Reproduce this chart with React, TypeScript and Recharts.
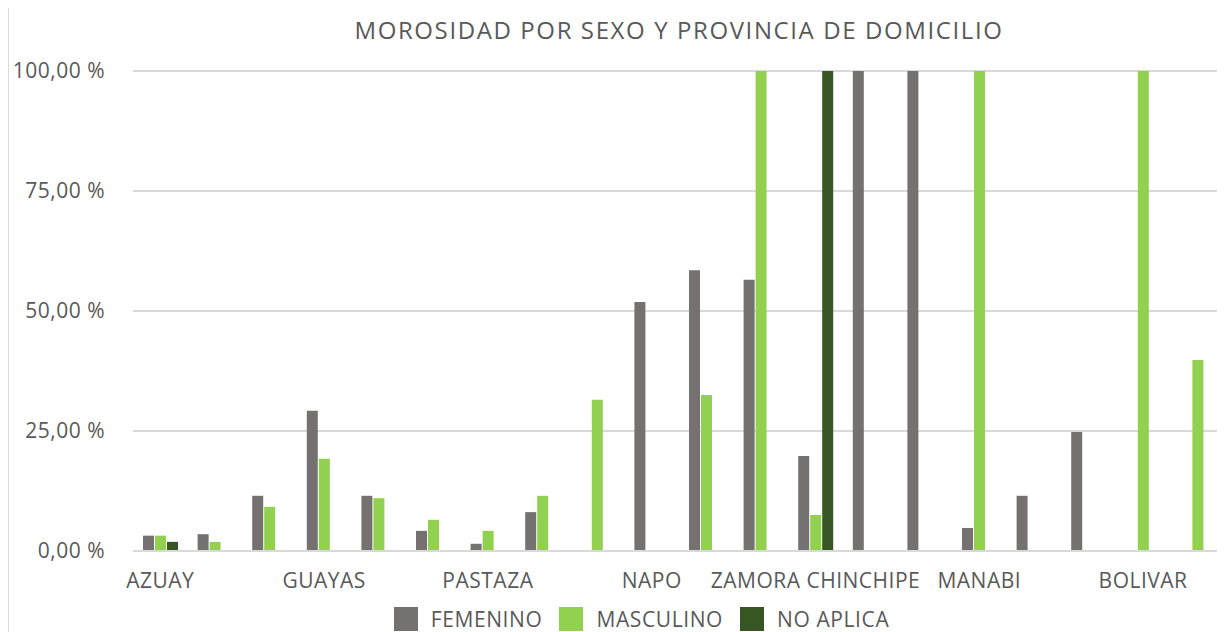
import React from 'react';
import { BarChart, Bar, XAxis, YAxis, CartesianGrid, Legend } from 'recharts';

const provincias = [
  'AZUAY', 'CAÑAR', 'EL ORO', 'GUAYAS', 'LOJA', 'MORONA SANTIAGO', 'PASTAZA', 'PICHINCHA',
  'TUNGURAHUA', 'NAPO', 'ORELLANA', 'SUCUMBIOS', 'ZAMORA CHINCHIPE', 'CHIMBORAZO', 'COTOPAXI',
  'MANABI', 'LOS RIOS', 'ESMERALDAS', 'BOLIVAR', 'CARCHI',
];
const femenino = [3.2, 3.5, 11.5, 29.2, 11.5, 4.2, 1.5, 8.1, 0, 51.9, 58.5, 56.5, 19.8, 100, 100, 4.8, 11.5, 24.8, 0, 0];
const masculino = [3.2, 1.9, 9.2, 19.2, 11, 6.5, 4.2, 11.5, 31.5, 0, 32.5, 100, 7.5, 0, 0, 100, 0, 0, 100, 39.8];
const noAplica = [1.9, 0, 0, 0, 0, 0, 0, 0, 0, 0, 0, 0, 100, 0, 0, 0, 0, 0, 0, 0];
const yTicks = [0, 25, 50, 75, 100];

const series = [
  { key: 'femenino', name: 'FEMENINO', color: '#757171' },
  { key: 'masculino', name: 'MASCULINO', color: '#92d050' },
  { key: 'noAplica', name: 'NO APLICA', color: '#375623' },
];

const data = provincias.map((p, i) => ({
  provincia: p,
  femenino: femenino[i],
  masculino: masculino[i],
  noAplica: noAplica[i],
}));

const FONT = '"Open Sans", sans-serif';
const TEXT = '#595959';

const fmt = (v: number) => v.toFixed(2).replace('.', ',') + ' %';

const LegendBox = () => (
  <div style={{ display: 'flex', justifyContent: 'center', alignItems: 'center', height: 36, paddingTop: 10, paddingLeft: 67, boxSizing: 'border-box', fontFamily: FONT, fontSize: 21, letterSpacing: 0.6, color: TEXT }}>
    {series.map((s) => (
      <div key={s.key} style={{ display: 'flex', alignItems: 'center', marginRight: 17 }}>
        <span style={{ display: 'inline-block', width: 24, height: 24, background: s.color, marginRight: 13 }} />
        <span>{s.name}</span>
      </div>
    ))}
  </div>
);

export default function App() {
  return (
    <div style={{ position: 'relative', width: 1217, height: 625, marginTop: -1, overflow: 'hidden' }}>
      <div style={{ position: 'absolute', left: 0, top: 0, width: 1217, height: 625, borderLeft: '1.5px solid #d9d9d9', borderTop: '1.5px solid #d9d9d9', boxSizing: 'border-box', pointerEvents: 'none' }} />
      <BarChart width={1217} height={625} data={data} margin={{ top: 64, right: 0, left: 0, bottom: 0 }} barSize={11} barGap={1}>
        <text x={671} y={26} textAnchor="middle" dominantBaseline="middle" fontFamily={FONT} fontSize={24} letterSpacing={1.6} fill={TEXT}>
          MOROSIDAD POR SEXO Y PROVINCIA DE DOMICILIO
        </text>
        <CartesianGrid vertical={false} stroke="#d9d9d9" strokeWidth={2} />
        <XAxis dataKey="provincia" interval={2} axisLine={{ stroke: '#d9d9d9', strokeWidth: 2 }} tickLine={false} height={45} tickMargin={16}
          tick={{ fill: TEXT, fontSize: 21, fontFamily: FONT, letterSpacing: 0.5 }} />
        <YAxis domain={[0, 100]} ticks={yTicks} tickFormatter={fmt} axisLine={false} tickLine={false} width={125} tickMargin={22}
          tick={{ fill: TEXT, fontSize: 21, fontFamily: FONT, letterSpacing: 0.5 }} />
        <Legend verticalAlign="bottom" content={() => <LegendBox />} />
        {series.map((s) => (
          <Bar key={s.key} dataKey={s.key} name={s.name} fill={s.color} isAnimationActive={false} />
        ))}
      </BarChart>
    </div>
  );
}
